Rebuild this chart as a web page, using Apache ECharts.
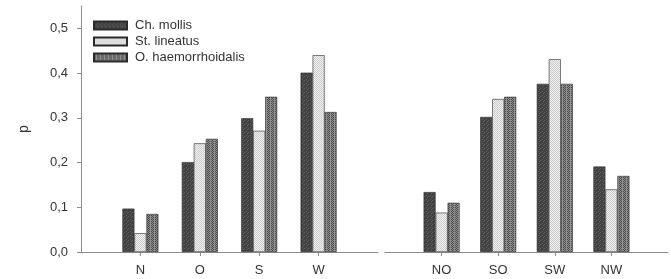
<!DOCTYPE html>
<html>
<head>
<meta charset="utf-8">
<script src="https://cdn.jsdelivr.net/npm/echarts@6/dist/echarts.min.js"></script>
<style>
  html, body { margin: 0; padding: 0; background: #fff; }
  #chart { width: 671px; height: 279px; }
</style>
</head>
<body>
<div id="chart"></div>
<script>
// categories (empty slots at both ends keep the spacing of the original plot)
const leftCats = ['', 'N', 'O', 'S', 'W', ''];
const rightCats = ['', 'NO', 'SO', 'SW', 'NW', ''];
const seriesNames = ['Ch. mollis', 'St. lineatus', 'O. haemorrhoidalis'];

// left panel values
const mollisLeft = [null, 0.097, 0.201, 0.299, 0.401, null];
const lineatusLeft = [null, 0.042, 0.243, 0.271, 0.440, null];
const haemLeft = [null, 0.085, 0.253, 0.347, 0.313, null];

// right panel values
const mollisRight = [null, 0.134, 0.302, 0.376, 0.191, null];
const lineatusRight = [null, 0.088, 0.342, 0.431, 0.140, null];
const haemRight = [null, 0.110, 0.347, 0.376, 0.170, null];

const yTicks = ['0,0', '0,1', '0,2', '0,3', '0,4', '0,5'];

// small canvas tiles for the printed fill patterns
function makeTile(size, bg, fg, hit) {
  const c = document.createElement('canvas');
  c.width = size; c.height = size;
  const ctx = c.getContext('2d');
  ctx.fillStyle = bg;
  ctx.fillRect(0, 0, size, size);
  ctx.fillStyle = fg;
  for (let x = 0; x < size; x++) {
    for (let y = 0; y < size; y++) {
      if (hit(x, y)) ctx.fillRect(x, y, 1, 1);
    }
  }
  return c;
}

const darkTile = makeTile(4, '#424242', '#626262', (x, y) => (x * 3 + y * 5) % 7 === 0);
const lightTile = makeTile(2, '#f2f2f2', '#cacaca', (x, y) => (x + y) % 2 === 0);
const hatchTile = makeTile(4, '#8e8e8e', '#4a4a4a', (x, y) => (x + y) % 2 === 0 && (x + 2 * y) % 4 !== 2);

const fills = [
  { image: darkTile, repeat: 'repeat' },
  { image: lightTile, repeat: 'repeat' },
  { image: hatchTile, repeat: 'repeat' }
];

const axisGrey = '#8c8c8c';
const textGrey = '#333';
const fontFamily = '"Liberation Sans", Arial, sans-serif';

function xAxisFor(cats, gridIndex) {
  return {
    type: 'category',
    gridIndex: gridIndex,
    data: cats,
    boundaryGap: false,
    axisLine: { lineStyle: { color: axisGrey, width: 1 } },
    axisTick: {
      length: 4,
      interval: (i, v) => v !== '',
      lineStyle: { color: axisGrey }
    },
    axisLabel: {
      interval: 0,
      margin: 12,
      fontSize: 13,
      color: textGrey,
      fontFamily: fontFamily
    },
    splitLine: { show: false }
  };
}

function barSeries(name, data, idx, axisIdx) {
  return {
    name: name,
    type: 'bar',
    xAxisIndex: axisIdx,
    yAxisIndex: axisIdx,
    data: data,
    barWidth: 12,
    barGap: '0%',
    itemStyle: {
      color: fills[idx],
      borderColor: '#2a2a2a',
      borderWidth: 0.6
    },
    emphasis: { disabled: true }
  };
}

const chart = echarts.init(document.getElementById('chart'));

const option = {
  animation: false,
  backgroundColor: '#fff',
  textStyle: { fontFamily: fontFamily },
  legend: {
    orient: 'vertical',
    left: 88,
    top: 14,
    itemWidth: 33,
    itemHeight: 8,
    itemGap: 3,
    icon: 'rect',
    data: seriesNames,
    textStyle: { fontSize: 13, color: textGrey, fontFamily: fontFamily, padding: [0, 0, 0, 3] }
  },
  grid: [
    { left: 81, top: 6, width: 297, bottom: 27, containLabel: false },
    { left: 385, top: 6, width: 297, bottom: 27, containLabel: false }
  ],
  xAxis: [xAxisFor(leftCats, 0), xAxisFor(rightCats, 1)],
  yAxis: [
    {
      type: 'value',
      gridIndex: 0,
      min: 0,
      max: 0.55,
      interval: 0.1,
      name: 'p',
      nameLocation: 'middle',
      nameRotate: 90,
      nameGap: 50,
      nameTextStyle: { fontSize: 14, color: textGrey, fontFamily: fontFamily },
      axisLine: { show: true, lineStyle: { color: axisGrey } },
      axisTick: { show: true, length: 4, lineStyle: { color: axisGrey } },
      axisLabel: {
        margin: 13,
        fontSize: 13,
        color: textGrey,
        fontFamily: fontFamily,
        showMaxLabel: false,
        formatter: v => {
          const k = Math.round(v * 10);
          return Math.abs(v * 10 - k) < 1e-6 ? yTicks[k] : '';
        }
      },
      splitLine: { show: false }
    },
    {
      type: 'value',
      gridIndex: 1,
      min: 0,
      max: 0.55,
      interval: 0.1,
      axisLine: { show: false },
      axisTick: { show: false },
      axisLabel: { show: false },
      splitLine: { show: false }
    }
  ],
  series: [
    barSeries(seriesNames[0], mollisLeft, 0, 0),
    barSeries(seriesNames[1], lineatusLeft, 1, 0),
    barSeries(seriesNames[2], haemLeft, 2, 0),
    barSeries(seriesNames[0], mollisRight, 0, 1),
    barSeries(seriesNames[1], lineatusRight, 1, 1),
    barSeries(seriesNames[2], haemRight, 2, 1)
  ]
};

chart.setOption(option);
</script>
</body>
</html>
